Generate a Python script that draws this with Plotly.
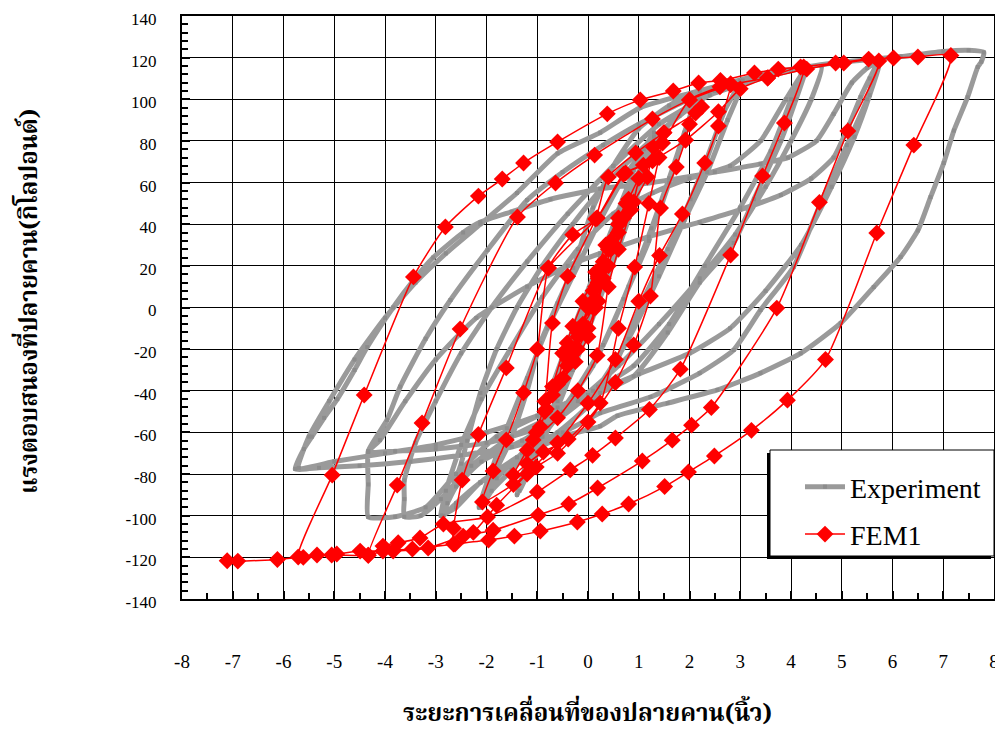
import plotly.graph_objects as go

# ---------------- data ----------------
x_ticks = [-8, -7, -6, -5, -4, -3, -2, -1, 0, 1, 2, 3, 4, 5, 6, 7, 8]
x_labels = ["-8", "-7", "-6", "-5", "-4", "-3", "-2", "-1", "0", "1", "2", "3", "4", "5", "6", "7", "8"]
y_ticks = [140, 120, 100, 80, 60, 40, 20, 0, -20, -40, -60, -80, -100, -120, -140]
y_labels = ["140", "120", "100", "80", "60", "40", "20", "0", "-20", "-40", "-60", "-80", "-100", "-120", "-140"]

# Experiment (displacement in., load kips) - traced loops
exp_x = [0, 0.15, 0.3, 0.15, 0, -0.15, -0.3, -0.15, 0, 0.3,
         0.45, 0.6, 0.4, 0.15, -0.1, -0.35, -0.6, -0.4, -0.1, 0.2, 0.45, 0.65,
         0.85, 0.6, 0.3, 0, -0.35, -0.7, -0.9, -0.6, -0.25, 0.1, 0.5, 0.9,
         1.1, 1.3, 1.05, 0.7, 0.3, -0.15, -0.6, -1.0, -1.35,
         -1.1, -0.75, -0.35, 0.1, 0.55, 0.95, 1.3,
         1.05, 0.65, 0.2, -0.3, -0.8, -1.15, -1.4,
         -1.15, -0.8, -0.35, 0.15, 0.6, 1.0,
         1.5, 2.1, 1.9, 1.6, 1.25, 0.8, 0.3, -0.3, -0.9, -1.5, -1.9, -2.1,
         -1.85, -1.53, -1.2, -0.94, -0.6, -0.29, 0.1, 0.5, 1.0, 1.6, 2.2,
         1.95, 1.6, 1.2, 0.7, 0.1, -0.6, -1.3, -1.8, -2.15,
         -1.9, -1.6, -1.2, -0.8, -0.3, 0.2, 0.8, 1.5, 2.2,
         2.6, 3.0, 2.7, 2.35, 2.02, 1.57, 1.09, 0.58, 0.1, -0.6, -1.4, -2.12, -2.6, -2.85,
         -2.77, -2.5, -2.38, -2.12, -1.8, -1.4, -0.9, -0.3, 0.3, 1.0, 1.8, 2.5, 3.05,
         2.75, 2.35, 1.9, 1.4, 0.8, 0.2, -0.5, -1.3, -2.1, -2.6, -2.9,
         -2.8, -2.5, -2.1, -1.53, -0.9, -0.2, 0.5, 1.27, 2.0, 2.8, 3.4, 3.9, 4.3,
         4.1, 3.8, 3.27, 2.87, 2.2, 1.57, 0.9, 0.24, -0.5, -1.5, -2.3, -2.9, -3.3, -3.62,
         -3.62, -3.62, -3.4, -3.0, -2.5, -1.9, -1.2, -0.4, 0.5, 1.4, 2.4, 3.4, 4.2,
         4.0, 3.6, 3.0, 2.3, 1.6, 0.9, 0.1, -0.8, -1.8, -2.6, -3.2, -3.8, -4.33,
         -4.33, -4.33, -3.96, -3.7, -3.2, -2.71, -1.98, -1.2, -0.5, 0.3, 1.0, 2.0, 3.0, 4.0, 4.6,
         4.4, 4.0, 3.5, 2.9, 2.2, 1.4, 0.6, -0.2, -1.0, -2.0, -3.0, -3.8, -4.33,
         -4.1, -3.6, -3.0, -2.2, -1.2, -0.4, 0.24, 1.2, 2.2, 3.0, 3.8, 4.4, 4.84, 5.15, 5.37, 5.55, 5.7,
         5.5, 5.1, 4.6, 4.05, 3.4, 2.87, 2.2, 1.23, 0.24, -0.5, -1.5, -2.5, -3.5, -4.5, -5.3, -5.77,
         -5.6, -5.44, -5.2, -4.94, -4.6, -4.35, -3.84, -3.44, -3.05, -2.46, -2.12, -1.5, -0.74, 0.24,
         1.27, 2.5, 3.4, 3.94, 4.5, 4.84, 5.2, 5.5, 5.75,
         5.55, 5.25, 4.8, 4.2, 3.5, 2.8, 2.0, 1.0, 0.0, -1.0, -2.0, -3.0, -4.0, -5.0, -5.7,
         -5.5, -5.1, -4.6, -4.0, -3.4, -2.8, -2.12, -1.4, -0.6, 0.24, 1.03, 2.02, 2.8, 3.54, 4.84,
         6.16, 7.0, 7.5, 7.8,
         7.75, 7.68, 7.48, 7.21, 7.01, 6.75, 6.5, 6.16, 5.63, 4.98, 4.19, 3.4, 2.55, 1.57, 0.58,
         0.24, -0.5, -1.2, -2.12, -2.6, -2.9]
exp_y = [0, 12, 24, 10, -2, -13, -24, -11, 2, 24,
         36, 47, 30, 8, -12, -30, -45, -30, -6, 16, 35, 50,
         62, 42, 18, -5, -30, -52, -62, -42, -16, 10, 38, 66,
         76, 84, 64, 38, 10, -20, -48, -70, -88,
         -68, -42, -15, 14, 40, 62, 82,
         60, 32, 2, -30, -57, -75, -90,
         -70, -44, -14, 18, 45, 65,
         85, 100, 84, 62, 38, 10, -18, -42, -62, -78, -88, -96,
         -80, -64, -40, -17, 2, 19, 48, 68, 86, 97, 104,
         86, 60, 32, 4, -28, -52, -70, -82, -96,
         -78, -58, -34, -10, 15, 40, 66, 86, 100,
         106, 109, 95, 72, 52, 28, 4, -25, -45, -60, -72, -84, -94, -100,
         -94, -75, -64, -41, -20, 0, 20, 40, 58, 75, 92, 104, 109,
         90, 65, 42, 15, -15, -38, -52, -64, -74, -86, -100,
         -88, -66, -44, -20, 5, 28, 45, 55, 62, 68, 80, 100, 115,
         100, 80, 52, 31, 12, -12, -33, -41, -50, -62, -76, -92, -100, -100.5,
         -92, -83, -65, -45, -22, 0, 22, 45, 68, 88, 102, 110, 114,
         100, 75, 48, 20, -8, -28, -40, -50, -62, -80, -96, -100.5, -100.6,
         -85, -69, -54, -38, -15, 3.6, 27.6, 51.6, 65, 78, 88, 100, 108, 114, 116,
         100, 80, 58, 35, 14, -8, -28, -45, -58, -65, -68, -69, -69.4,
         -63.7, -45, -25, -5, 10, 20, 26, 34, 41, 47, 54, 62, 72, 88, 101, 110, 117,
         100, 78, 51, 19.5, -1.2, -20.4, -31.5, -43, -50.7, -60, -67, -71, -74, -76, -77, -77.5,
         -68, -62, -53, -44, -30, -19, 0, 13, 24, 36, 41, 46, 52, 57,
         60, 65, 69, 72, 80, 93, 108, 115, 118.5,
         102, 82, 58, 30, 8, -10, -22, -32, -42, -52, -60, -66, -70, -74, -77,
         -62, -45, -25, -5, 12, 26, 40, 55, 74, 84, 96, 103, 108, 112.6, 117.4,
         120.5, 123, 123.5, 122.5,
         118, 115.5, 101, 85, 69.4, 53, 37, 24.3, 9.8, -7.5, -22, -31.5, -39.6, -45.9, -52,
         -57, -62, -70, -84, -96, -100]

# FEM1 (displacement in., load kips)
fem_x = [0, 0.1, 0.2, 0.3,
         0.2, 0.05, -0.1, -0.2, -0.3,
         -0.15, 0.0, 0.15, 0.3, 0.45, 0.6,
         0.45, 0.3, 0.15, 0.0, -0.2, -0.41, -0.55,
         -0.4, -0.2, 0.05, 0.2, 0.4, 0.6, 0.75,
         0.6, 0.4, 0.2, 0.0, -0.25, -0.49, -0.7, -0.85,
         -0.7, -0.5, -0.3, -0.1, 0.15, 0.35, 0.6, 0.8, 1.0,
         0.85, 0.6, 0.4, 0.18, -0.2, -0.6, -1.08,
         -0.94, -0.82, -0.6, -0.41, -0.15, 0.1, 0.24, 0.45, 0.7, 0.9, 1.17, 1.29, 1.5,
         1.4, 1.2, 0.92, 0.6, 0.24, -0.39, -0.88, -1.2, -1.47,
         -1.2, -1.02, -0.85, -0.7, -0.4, 0.15, 0.40, 0.94, 1.49, 2.12, 2.24,
         2.0, 1.92, 1.74, 1.43, 1.23, 0.9, 0.54, 0.0, -0.6, -1.02, -1.47, -2.08,
         -1.87, -1.61, -1.27, -1.0, -0.78, -0.3, 0.18, 0.74, 1.09, 1.47, 2.0, 2.6, 2.81,
         2.57, 2.30, 1.86, 1.41, 1.0, 0.54, 0.0, -0.6, -1.2, -1.8, -2.26, -2.65,
         -2.65, -2.48, -2.16, -1.61, -0.78, 0.18, 0.70, 1.27, 1.92, 2.57, 3.0, 3.54, 4.25,
         3.87, 3.44, 2.81, 1.82, 1.21, 0.54, 0.09, -0.35, -1.0, -1.98, -2.85, -3.31, -3.74, -4.04, -4.33,
         -3.76, -3.27, -2.52, -1.39, -0.64, 0.13, 1.27, 2.0, 2.81, 3.54, 4.31, 5.04, 5.73,
         5.12, 4.56, 3.72, 2.43, 2.04, 1.66, 1.07, 0.19, -0.38, -0.98, -1.87, -2.46, -3.15, -3.84,
         -4.49, -4.95, -5.34, -5.71,
         -5.04, -4.41, -3.44, -2.81, -2.16, -1.69, -1.27, -0.60, 0.38, 1.03, 1.68, 2.18, 2.61,
         3.28, 3.75, 4.19, 4.88, 5.53, 6.02, 6.50, 7.15,
         6.42, 5.69, 4.68, 3.93, 3.22, 2.49, 1.98, 1.51, 0.80, 0.28, -0.21, -0.94, -1.45, -1.96,
         -2.62, -3.46, -4.04, -4.33, -5.05, -5.61, -6.12, -6.90, -7.11]
fem_y = [0, 8, 15, 22,
         12, 1, -8, -14, -20,
         -10, 0, 10, 20, 30, 40,
         28, 14, 0, -10, -20, -28, -35,
         -25, -12, 2, 14, 28, 40, 50,
         36, 20, 3, -14, -26, -34, -42, -50,
         -38, -22, -9, 3, 17, 30, 43, 52, 62,
         47, 28, 10, -23, -40, -53, -63.6,
         -57.4, -48.8, -37, -17, -9.9, 0, 18, 32, 43, 50.7, 62.7, 77, 84,
         72, 50, 19.4, -10, -45.9, -63.2, -69.4, -75, -80.5,
         -68.5, -60, -45, -7.5, 15, 42.5, 62.7, 74.2, 83.8, 93.4, 96.3,
         88, 80.4, 67.5, 47.8, 5.5, -18, -36, -55, -70, -76.6, -85, -93.4,
         -78.5, -63.6, -41, -20, 19, 35, 43, 64.6, 68.4, 79, 99.7, 106, 107.5,
         87.2, 69.4, 44.9, 25, 3, -25, -46, -65, -80, -95, -108, -113.6,
         -106, -82.9, -61, -29, 19, 43, 64, 70.4, 80.4, 94, 105, 110.2, 115.5,
         88.6, 63.2, 25.2, -29.6, -49, -62.7, -71, -78, -88.6, -100.6, -104, -110.7, -113, -114.6, -119,
         -85.3, -55.5, -10.3, 43.5, 59.8, 73.2, 90.5, 99.7, 107, 110.2, 114.5, 117.4, 118.4,
         84.8, 50.5, -0.3, -48, -56.5, -63.7, -73.7, -86.7, -94.4, -99.7, -107, -109.8, -115.5, -117,
         -117, -118.4, -118.9, -119.8,
         -80.5, -42, 14.7, 38.7, 53.5, 61.7, 69.4, 79.5, 93, 99.7, 104, 107.8, 109,
         112.6, 114.5, 115.5, 117.4, 119.3, 119.8, 120.3, 121,
         78, 35.8, -25, -44.5, -59, -71.3, -79, -86, -94.4, -99.2, -103, -107.4, -109.8, -111.7,
         -113.6, -116, -117, -119, -118.9, -120, -121, -121.8, -121.6]

series_names = ["Experiment", "FEM1"]
x_title = "ระยะการเคลื่อนที่ของปลายคาน(นิ้ว)"
y_title = "แรงตอบสนองที่ปลายคาน(กิโลปอนด์)"

# ---------------- figure ----------------
# the page body adds an 8px margin, so the figure is 8px smaller and every
# target pixel position below is given in window pixels, then shifted.
OFF = 8
W, H = 1003 - OFF, 734 - OFF
L, R, T, B = 182 - OFF, 9, 16 - OFF, 135
pw, ph = W - L - R, H - T - B


def px_x(p):
    return (p - OFF - L) / pw


def px_y(p):
    return (H - B - (p - OFF)) / ph


serif = "Times New Roman, Liberation Serif, DejaVu Serif, serif"
thai = "Noto Serif Thai, Norasi, Noto Sans Thai, Loma, Garuda, Tahoma, DejaVu Sans, sans-serif"

fig = go.Figure()
fig.add_trace(go.Scatter(
    x=exp_x, y=exp_y, name=series_names[0], mode="lines+markers",
    line=dict(color="#9a9a9a", width=5, shape="spline", smoothing=0.5),
    marker=dict(symbol="square", size=4, color="#8c8c8c"),
    legendgroup="a",
))
fig.add_trace(go.Scatter(
    x=fem_x, y=fem_y, name=series_names[1], mode="lines+markers",
    line=dict(color="#ff0000", width=1.5, shape="spline", smoothing=0.6),
    marker=dict(symbol="diamond", size=13, color="#ff0000"),
    legendgroup="b",
))

axis_common = dict(
    showgrid=True, gridcolor="black", gridwidth=1,
    showline=True, linecolor="black", linewidth=2, mirror=True,
    zeroline=False, ticks="inside", tickcolor="black", tickwidth=2,
    ticklabeloverflow="allow",
)

fig.update_xaxes(
    range=[-8, 8], tickmode="array", tickvals=x_ticks, ticktext=x_labels,
    ticklen=8, ticklabelstandoff=44,
    tickfont=dict(family=serif, size=19, color="black"),
    minor=dict(dtick=0.5, ticks="inside", ticklen=6, tickcolor="black", tickwidth=2, showgrid=False),
    **axis_common,
)
fig.update_yaxes(
    range=[-140, 140], tickmode="array", tickvals=y_ticks, ticktext=y_labels,
    ticklen=8, ticklabelstandoff=20, ticklabelshift=3,
    tickfont=dict(family=serif, size=17, color="black"),
    minor=dict(dtick=4, ticks="inside", ticklen=6, tickcolor="black", tickwidth=2, showgrid=False),
    **axis_common,
)

# legend box with shadow (drawn as shapes), legend entries on top
shapes = [
    dict(type="rect", xref="paper", yref="paper",
         x0=px_x(767), x1=px_x(991), y0=px_y(559), y1=px_y(453),
         fillcolor="black", line=dict(width=0), layer="above"),
    dict(type="rect", xref="paper", yref="paper",
         x0=px_x(770), x1=px_x(994), y0=px_y(556), y1=px_y(450),
         fillcolor="white", line=dict(color="black", width=1), layer="above"),
]

annotations = [
    dict(text=f"<b>{x_title}</b>", xref="paper", yref="paper",
         x=px_x(587), y=px_y(714), showarrow=False, xanchor="center", yanchor="middle",
         font=dict(family=thai, size=24, color="black")),
    dict(text=f"<b>{y_title}</b>", xref="paper", yref="paper",
         x=px_x(30), y=px_y(302), showarrow=False, textangle=-90, xanchor="center", yanchor="middle",
         font=dict(family=thai, size=24, color="black")),
]

fig.update_layout(
    width=W, height=H,
    margin=dict(l=L, r=R, t=T, b=B, pad=0, autoexpand=False),
    paper_bgcolor="white", plot_bgcolor="white",
    font=dict(family=serif, color="black"),
    showlegend=True,
    legend=dict(x=px_x(800), y=px_y(462), xanchor="left", yanchor="top",
                bgcolor="rgba(0,0,0,0)", borderwidth=0,
                font=dict(family=serif, size=28, color="black"),
                traceorder="grouped", tracegroupgap=8, itemwidth=40),
    shapes=shapes,
    annotations=annotations,
)

fig.write_html("out.html")
